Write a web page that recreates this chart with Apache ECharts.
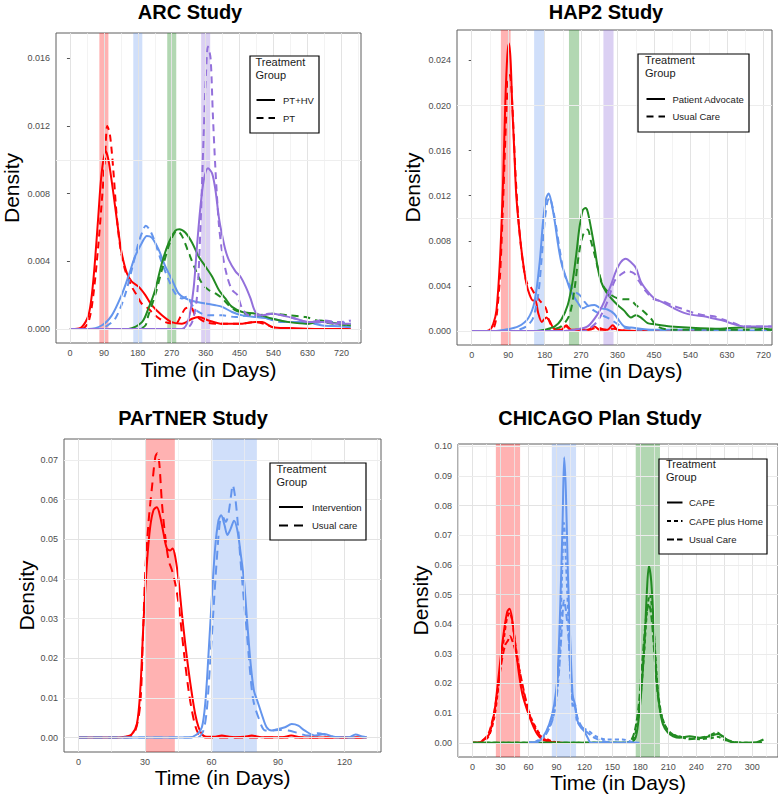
<!DOCTYPE html>
<html><head><meta charset="utf-8">
<script src="https://cdn.jsdelivr.net/npm/echarts@6/dist/echarts.min.js"></script>
<style>html,body{margin:0;padding:0;background:#fff}#c{width:778px;height:797px}</style>
</head><body><div id="c"></div>
<script>
// ---------------- DATA ----------------
// ARC Study
const arcXTicks = [0, 90, 180, 270, 360, 450, 540, 630, 720];
const arcYTicks = [0, 0.004, 0.008, 0.012, 0.016];
const arcBands = [[78, 102], [168, 192], [258, 282], [348, 372]];
const arcGroups = ['PT+HV', 'PT'];
const arcRedSolid = [[0,0],[13,0],[31,0.0001],[49,0.0008],[58,0.002],[66,0.0039],[75,0.0066],[84,0.0092],[95,0.0105],[102,0.0100],[111,0.0087],[120,0.0072],[129,0.0057],[137,0.0045],[151,0.0033],[164,0.0028],[182,0.0025],[200,0.0020],[217,0.0014],[244,0.0008],[270,0.0004],[297,0.0003],[324,0.0006],[341,0.0007],[368,0.0005],[404,0.0003],[448,0.0003],[492,0.0004],[510,0.0004],[537,0.0001],[581,0.00005],[650,0],[745,0]];
const arcRedDash = [[0,0],[31,0],[49,0.0004],[62,0.002],[75,0.0049],[84,0.0074],[93,0.0101],[99,0.012],[106,0.0115],[115,0.0094],[124,0.0067],[133,0.0049],[146,0.0035],[164,0.0025],[177,0.002],[190,0.0015],[208,0.0012],[226,0.0008],[253,0.0004],[280,0.0003],[295,0.0008],[306,0.0012],[320,0.0013],[333,0.0008],[360,0.0004],[400,0.0003],[448,0.0003],[490,0.0004],[515,0.0003],[540,0.0001],[600,0],[745,0]];
const arcBlueSolid = [[0,0],[49,0],[84,0.0002],[111,0.0008],[137,0.002],[155,0.0031],[173,0.0043],[191,0.0051],[204,0.0055],[217,0.0054],[235,0.0047],[253,0.0037],[271,0.0029],[288,0.0021],[306,0.0018],[333,0.0016],[359,0.0015],[386,0.0014],[404,0.0013],[430,0.001],[457,0.0008],[492,0.0007],[537,0.0006],[581,0.0004],[625,0.0004],[670,0.0002],[714,0.00016],[745,0.0001]];
const arcBlueDash = [[0,0],[80,0],[93,0.0001],[120,0.0006],[146,0.002],[164,0.0035],[182,0.0051],[195,0.0059],[201,0.0061],[213,0.0058],[226,0.0051],[244,0.0039],[262,0.0029],[279,0.0021],[297,0.0018],[310,0.0019],[324,0.0014],[341,0.001],[368,0.0008],[404,0.0008],[439,0.0007],[475,0.0008],[510,0.0007],[563,0.0004],[599,0.0004],[634,0.0003],[670,0.0004],[714,0.0004],[745,0.0003]];
const arcGreenSolid = [[0,0],[155,0],[191,0.0004],[208,0.0012],[226,0.0023],[244,0.0039],[262,0.0051],[279,0.0058],[290,0.0059],[306,0.0057],[324,0.0051],[341,0.0043],[359,0.0037],[377,0.0031],[395,0.0023],[412,0.0018],[430,0.0013],[457,0.0010],[492,0.0009],[537,0.0006],[581,0.0004],[634,0.0003],[665,0.0005],[687,0.0004],[714,0.0003],[745,0.0002]];
const arcGreenDash = [[0,0],[182,0],[200,0.0002],[208,0.0008],[226,0.002],[244,0.0035],[262,0.0049],[275,0.0056],[284,0.0058],[297,0.0055],[315,0.0045],[333,0.0035],[350,0.0027],[368,0.0023],[386,0.0021],[404,0.0018],[421,0.0014],[439,0.0011],[466,0.0009],[492,0.0008],[537,0.0009],[581,0.0008],[625,0.0007],[670,0.0004],[745,0.0002]];
const arcPurpleSolid = [[0,0],[297,0],[315,0.0006],[328,0.0024],[337,0.0049],[346,0.0072],[355,0.0088],[366,0.0095],[377,0.0092],[386,0.0082],[395,0.0066],[404,0.0055],[412,0.0047],[421,0.0041],[439,0.0034],[452,0.0031],[466,0.0025],[479,0.0018],[492,0.001],[510,0.0008],[537,0.0009],[563,0.0008],[599,0.0006],[634,0.0004],[670,0.0004],[714,0.0003],[745,0.0003]];
const arcPurpleDash = [[0,0],[306,0],[324,0.0004],[337,0.0019],[346,0.0059],[355,0.0117],[361,0.0152],[366,0.0167],[373,0.016],[379,0.0127],[386,0.0094],[395,0.0062],[404,0.0045],[417,0.0031],[430,0.0023],[444,0.002],[457,0.0012],[475,0.0008],[492,0.0008],[528,0.0009],[563,0.0008],[599,0.0006],[634,0.0004],[670,0.0005],[714,0.0004],[745,0.0005]];

// HAP2 Study
const hapXTicks = [0, 90, 180, 270, 360, 450, 540, 630, 720];
const hapYTicks = [0, 0.004, 0.008, 0.012, 0.016, 0.020, 0.024];
const hapBands = [[72, 96], [154, 180], [240, 265], [325, 350]];
const hapGroups = ['Patient Advocate', 'Usual Care'];
const hapRedSolid = [[0,0],[37,0],[45,0.0001],[53,0.0006],[61,0.0018],[70,0.0065],[78,0.0139],[83,0.0204],[88,0.0245],[92,0.0255],[96,0.024],[100,0.02],[105,0.016],[110,0.012],[119,0.0084],[127,0.006],[135,0.0042],[143,0.0032],[151,0.0027],[157,0.0027],[164,0.0016],[173,0.0008],[184,0.0012],[192,0.0009],[203,0.0002],[221,0.0001],[233,0.0005],[245,0.0001],[286,0.0001],[303,0.0004],[315,0.0001],[335,0.0001],[348,0.0005],[360,0.0001],[409,0],[741,0]];
const hapRedDash = [[0,0],[45,0],[55,0.0003],[62,0.0015],[70,0.005],[78,0.012],[85,0.019],[90,0.0222],[94,0.0227],[98,0.0215],[103,0.018],[108,0.014],[115,0.01],[123,0.007],[131,0.005],[139,0.004],[145,0.0039],[155,0.0033],[170,0.0026],[183,0.002],[190,0.001],[200,0.0003],[215,0.0001],[233,0.0004],[245,0.0001],[290,0.0001],[310,0.0003],[330,0.0001],[350,0.0002],[380,0],[741,0]];
const hapBlueSolid = [[0,0],[60,0],[82,0.0001],[115,0.0004],[139,0.0011],[155,0.0026],[168,0.0062],[176,0.0097],[184,0.0118],[190,0.0122],[196,0.0115],[205,0.0097],[213,0.0077],[221,0.0061],[233,0.0047],[245,0.0035],[262,0.0025],[274,0.002],[286,0.0022],[303,0.0023],[319,0.002],[335,0.0019],[352,0.0015],[364,0.0009],[376,0.0004],[393,0.0003],[450,0.0001],[548,0.0001],[741,0]];
const hapBlueDash = [[0,0],[100,0],[115,0.0001],[135,0.0004],[151,0.0011],[164,0.0032],[172,0.0062],[180,0.0097],[187,0.0115],[192,0.0118],[200,0.0109],[209,0.0091],[219,0.0068],[229,0.005],[241,0.0041],[254,0.0035],[266,0.0032],[278,0.0026],[294,0.002],[311,0.0016],[327,0.0013],[344,0.001],[360,0.0006],[376,0.0003],[417,0.0001],[741,0]];
const hapGreenSolid = [[0,0],[160,0],[180,0.0001],[205,0.0004],[221,0.001],[237,0.0023],[249,0.0044],[258,0.0068],[266,0.0092],[274,0.0107],[281,0.0109],[286,0.0106],[294,0.0092],[303,0.0074],[311,0.0056],[319,0.0044],[331,0.0035],[344,0.0029],[360,0.0023],[376,0.0018],[393,0.0012],[405,0.0014],[417,0.0012],[434,0.0007],[450,0.0006],[491,0.0004],[532,0.0003],[614,0.0002],[663,0.0003],[695,0.0003],[741,0.0001]];
const hapGreenDash = [[0,0],[180,0],[196,0.0001],[221,0.0004],[241,0.0014],[254,0.0038],[262,0.0062],[270,0.0079],[278,0.0088],[286,0.009],[294,0.008],[303,0.0068],[311,0.0056],[323,0.0041],[335,0.0035],[348,0.0031],[360,0.0029],[376,0.0028],[389,0.0028],[405,0.0023],[425,0.0017],[442,0.0011],[458,0.0004],[491,0.0001],[741,0.0001]];
const hapPurpleSolid = [[0,0],[230,0],[254,0.0001],[286,0.0004],[311,0.0015],[327,0.0026],[344,0.0041],[356,0.0053],[368,0.0061],[380,0.0064],[393,0.0061],[405,0.0056],[417,0.0044],[434,0.0035],[450,0.0029],[474,0.0025],[499,0.002],[524,0.0016],[548,0.0014],[573,0.0013],[597,0.0011],[622,0.0009],[646,0.0006],[671,0.0004],[695,0.0004],[741,0.0004]];
const hapPurpleDash = [[0,0],[270,0],[286,0.0001],[311,0.0009],[335,0.0026],[352,0.0044],[368,0.005],[384,0.0053],[401,0.0051],[413,0.0044],[430,0.0035],[450,0.0028],[474,0.0026],[499,0.0022],[524,0.0019],[548,0.0016],[573,0.0014],[597,0.0013],[622,0.001],[646,0.0007],[671,0.0004],[741,0.0004]];

// PArTNER Study
const ptXTicks = [0, 30, 60, 90, 120];
const ptYTicks = [0, 0.01, 0.02, 0.03, 0.04, 0.05, 0.06, 0.07];
const ptBands = [[30.5, 43.5], [60.5, 80.5]];
const ptGroups = ['Intervention', 'Usual care'];
const ptRedSolid = [[0,0],[18,0],[21,0.0002],[24,0.0008],[26.4,0.0035],[27.9,0.0119],[29.4,0.0295],[30.9,0.0439],[32.4,0.0532],[33.9,0.0574],[35.4,0.0581],[36.9,0.0557],[38.4,0.0515],[39.9,0.0477],[41.4,0.0472],[42.5,0.0477],[43.7,0.0455],[45.2,0.0396],[46.7,0.0312],[48.2,0.0236],[49.7,0.0169],[51.2,0.011],[52.7,0.0059],[54.2,0.0026],[55.7,0.0009],[57.2,0.0003],[61,0.0002],[64.7,0.0005],[68,0.0002],[70.7,0.0001],[75,0.0002],[78.2,0.0005],[82.7,0.0001],[92,0.0001],[96,0.0005],[100,0.0001],[105,0],[130,0]];
const ptRedDash = [[0,0],[20,0],[22.7,0.0001],[25.7,0.0018],[27.9,0.0085],[29.1,0.0253],[30.2,0.0422],[31.7,0.0548],[33.2,0.0632],[34.7,0.0708],[35.6,0.0717],[36.5,0.0691],[37.7,0.059],[39.2,0.0506],[40.7,0.0447],[42.2,0.0422],[43.7,0.0388],[45.2,0.0337],[46.7,0.0261],[48.2,0.0185],[49.7,0.0119],[51.2,0.0068],[52.7,0.003],[54.2,0.0009],[55.7,0.0003],[58,0],[130,0]];
const ptBlueSolid = [[0,0],[49.7,0],[53.4,0.0008],[55.7,0.0026],[57.2,0.0085],[58.7,0.0211],[60.2,0.0354],[61.7,0.048],[63.2,0.0548],[64.4,0.0561],[65.9,0.0536],[67.2,0.0511],[68.7,0.0527],[70.2,0.0547],[71.7,0.0523],[73.2,0.0464],[74.7,0.0396],[76.2,0.0287],[77.7,0.0186],[79.2,0.0118],[80.7,0.0093],[82.7,0.0059],[84.9,0.0026],[87.2,0.0018],[90.2,0.0022],[93.2,0.0026],[96.2,0.0034],[99.2,0.003],[102,0.0018],[107,0.0005],[111,0.0009],[116,0.0001],[122,0.0001],[125,0.0008],[128,0.0003],[130,0.0001]];
const ptBlueDash = [[0,0],[52,0],[54.2,0.0001],[56.4,0.0018],[57.9,0.0068],[59.4,0.0186],[60.9,0.032],[62.4,0.0447],[63.9,0.0548],[65,0.0557],[66.5,0.0544],[67.7,0.0565],[68.9,0.0612],[69.6,0.0637],[70.7,0.0607],[71.9,0.054],[72.9,0.0463],[74.4,0.0362],[75.9,0.027],[77.4,0.0169],[78.9,0.0094],[81.2,0.0051],[84.2,0.0018],[87.2,0.0018],[90.2,0.0019],[94.7,0.0018],[99.2,0.0011],[103.7,0.0005],[108,0.0011],[112.7,0.0005],[117,0.0001],[130,0]];

// CHICAGO Plan Study
const chXTicks = [0, 30, 60, 90, 120, 150, 180, 210, 240, 270, 300];
const chYTicks = [0, 0.01, 0.02, 0.03, 0.04, 0.05, 0.06, 0.07, 0.08, 0.09, 0.10];
const chBands = [[25, 51], [85, 111], [175, 201]];
const chGroups = ['CAPE', 'CAPE plus Home', 'Usual Care'];
const chRedSolid = [[0,0],[5,0],[10.4,0.0006],[17.6,0.0028],[23,0.0096],[26.6,0.0185],[30.1,0.0286],[33.7,0.0377],[37.3,0.0443],[39.8,0.0452],[42.7,0.041],[46.3,0.032],[49.9,0.023],[53.5,0.0163],[58.9,0.0107],[64.2,0.0062],[69.6,0.0028],[75,0.0011],[85.8,0.0002],[96.5,0]];
const chRedDot = [[0,0],[5,0],[10,0.0004],[17,0.002],[23,0.008],[27,0.017],[30,0.026],[34,0.036],[37,0.042],[40,0.044],[43,0.04],[46,0.033],[50,0.025],[54,0.018],[59,0.012],[64,0.0075],[70,0.004],[75,0.002],[80,0.0012],[86,0.0004],[95,0]];
const chRedDash = [[0,0],[5,0],[10,0.0006],[17,0.003],[23,0.01],[27,0.018],[31,0.027],[35,0.033],[38,0.0345],[40,0.036],[42,0.035],[46,0.031],[50,0.025],[54,0.019],[59,0.012],[64,0.007],[70,0.0035],[75,0.0015],[85,0.0003],[95,0]];
const chBlueSolid = [[60,0],[67.8,0],[75,0.0017],[82.2,0.0062],[87.6,0.0129],[91.2,0.023],[94,0.0455],[96.5,0.0736],[98.3,0.0963],[100.1,0.0848],[102.3,0.0567],[104.8,0.0343],[107.3,0.0163],[109.8,0.0129],[112.7,0.0073],[116.3,0.0051],[119.9,0.0039],[123.5,0.0017],[127,0],[175,0]];
const chBlueDot = [[60,0],[69,0.0006],[78,0.0028],[86,0.0084],[89,0.014],[93,0.0287],[96,0.0567],[98,0.0742],[100,0.0624],[103,0.0399],[105,0.023],[108,0.0118],[110,0.0129],[112,0.0073],[118,0.0051],[125,0.0039],[132,0.0022],[143,0.0011],[161,0.0011],[172,0.0002],[180,0]];
const chBlueDash = [[60,0],[70,0.0005],[78,0.0025],[86,0.008],[90,0.015],[93,0.025],[96,0.04],[98,0.048],[100,0.045],[103,0.035],[105,0.023],[108,0.013],[110,0.012],[113,0.008],[118,0.005],[125,0.003],[132,0.0015],[140,0.0006],[150,0],[175,0]];
const chGreenSolid = [[0,0],[168,0],[174,0.0011],[177,0.0051],[181,0.0174],[184.5,0.0343],[187,0.0512],[189.1,0.0596],[191.6,0.0546],[194.2,0.0399],[197,0.023],[200.6,0.0118],[204.2,0.0062],[209.5,0.0034],[215,0.0022],[222,0.0017],[232.9,0.0022],[243.7,0.0017],[254.5,0.0022],[263.4,0.003],[268.8,0.0022],[274.2,0.0006],[290,0],[304.7,0.0002],[312,0.0011]];
const chGreenDot = [[0,0],[168,0],[172,0.001],[176,0.005],[180,0.015],[184,0.03],[187,0.044],[190,0.05],[193,0.044],[196,0.03],[199,0.017],[203,0.009],[208,0.005],[214,0.003],[222,0.002],[232,0.0015],[243,0.0012],[254,0.0015],[263,0.002],[270,0.001],[280,0.0002],[290,0],[312,0]];
const chGreenDash = [[0,0],[165,0],[170,0.0008],[174,0.004],[178,0.012],[182,0.027],[186,0.042],[189,0.047],[192,0.042],[195,0.03],[198,0.018],[202,0.01],[207,0.0055],[213,0.003],[222,0.0022],[232,0.0012],[243,0.0015],[254,0.0025],[262,0.0035],[268,0.002],[275,0.0008],[285,0],[312,0]];

// ---------------- STYLE / LAYOUT ----------------
const FONT = 'Liberation Sans, Arial, Helvetica, sans-serif';
const COL = { red: '#FF0000', blue: '#6495ED', green: '#228B22', purple: '#9370DB' };
const BAND = { red: 'rgba(255,0,0,0.30)', blue: 'rgba(100,149,237,0.30)', green: 'rgba(34,139,34,0.35)', purple: 'rgba(147,112,219,0.33)' };
const DASH2 = [7, 5];
const DOT3 = [4, 3];
const DASH3 = [7, 3];

const panels = [
  { title: 'ARC Study', tx: 190, ty: 11.5, left: 51, top: 33, width: 310, height: 310,
    xr: [-37, 772], yr: [-0.000835, 0.0175], xt: arcXTicks, yt: arcYTicks, dec: 3,
    xGap: 16, yGap: 34, bands: arcBands, bandCols: ['red','blue','green','purple'],
    lines: [[arcRedSolid,'red',0],[arcRedDash,'red',1],[arcBlueSolid,'blue',0],[arcBlueDash,'blue',1],
            [arcGreenSolid,'green',0],[arcGreenDash,'green',1],[arcPurpleSolid,'purple',0],[arcPurpleDash,'purple',1]],
    dashes: ['solid', DASH2], groups: arcGroups,
    leg: { x: 250, y: 56, w: 69, h: 77, tx: 255.5, ty: 68, lx1: 256.5, lx2: 275, ly: [100, 118], labx: 283 } },
  { title: 'HAP2 Study', tx: 606, ty: 11.5, left: 457, top: 30, width: 315, height: 315,
    xr: [-36.3, 741], yr: [-0.00125, 0.0267], xt: hapXTicks, yt: hapYTicks, dec: 3,
    xGap: 14, yGap: 34, bands: hapBands, bandCols: ['red','blue','green','purple'],
    lines: [[hapRedSolid,'red',0],[hapRedDash,'red',1],[hapBlueSolid,'blue',0],[hapBlueDash,'blue',1],
            [hapGreenSolid,'green',0],[hapGreenDash,'green',1],[hapPurpleSolid,'purple',0],[hapPurpleDash,'purple',1]],
    dashes: ['solid', DASH2], groups: hapGroups,
    leg: { x: 638, y: 54, w: 111, h: 78, tx: 645, ty: 66, lx1: 646.5, lx2: 665, ly: [99, 116.5], labx: 672.5 } },
  { title: 'PArTNER Study', tx: 193, ty: 418, left: 64, top: 439, width: 317, height: 313,
    xr: [-6.5, 136.5], yr: [-0.00363, 0.0753], xt: ptXTicks, yt: ptYTicks, dec: 2,
    xGap: 14, yGap: 27, bands: ptBands, bandCols: ['red','blue'],
    lines: [[ptRedSolid,'red',0],[ptRedDash,'red',1],[ptBlueSolid,'blue',0],[ptBlueDash,'blue',1]],
    dashes: ['solid', [9, 6]], groups: ptGroups,
    leg: { x: 270, y: 463, w: 96, h: 77, tx: 276.5, ty: 475, lx1: 279, lx2: 303, ly: [507, 525.5], labx: 312 } },
  { title: 'CHICAGO Plan Study', tx: 600, ty: 418, left: 458, top: 444, width: 320, height: 313,
    xr: [-15.6, 327.6], yr: [-0.0048, 0.1008], xt: chXTicks, yt: chYTicks, dec: 2,
    xGap: 14, yGap: 25, bands: chBands, bandCols: ['red','blue','green'],
    lines: [[chRedSolid,'red',0],[chRedDot,'red',1],[chRedDash,'red',2],
            [chGreenSolid,'green',0],[chGreenDot,'green',1],[chGreenDash,'green',2],
            [chBlueSolid,'blue',0],[chBlueDot,'blue',1],[chBlueDash,'blue',2]],
    dashes: ['solid', DOT3, DASH3], groups: chGroups,
    leg: { x: 659, y: 459, w: 108, h: 95, tx: 666, ty: 470.5, lx1: 667, lx2: 682.5, ly: [502.5, 521, 539.5], labx: 689 } }
];

function minorOf(ticks, range) {
  const step = ticks[1] - ticks[0];
  const out = [];
  const first = ticks[0] - step / 2;
  if (first > range[0]) out.push(first);
  ticks.forEach(t => { const m = t + step / 2; if (m < range[1]) out.push(+m.toFixed(6)); });
  return out;
}

const grids = [], xAxes = [], yAxes = [], series = [], graphics = [];
panels.forEach((p, i) => {
  grids.push({ left: p.left, top: p.top, width: p.width, height: p.height, show: true,
    borderColor: '#5e5e5e', borderWidth: 1, backgroundColor: 'transparent', containLabel: false });
  xAxes.push({ type: 'value', gridIndex: i, min: p.xr[0], max: p.xr[1],
    name: 'Time (in Days)', nameLocation: 'middle', nameGap: p.xGap,
    nameTextStyle: { fontSize: 21, color: '#000', fontFamily: FONT },
    axisLine: { show: false },
    axisTick: { show: true, customValues: p.xt, length: 3, lineStyle: { color: '#555', width: 1 } },
    axisLabel: { customValues: p.xt, margin: 5, fontSize: 9, color: '#4d4d4d', fontFamily: FONT, formatter: v => String(Math.round(v)) },
    splitLine: { show: false } });
  yAxes.push({ type: 'value', gridIndex: i, min: p.yr[0], max: p.yr[1],
    name: 'Density', nameLocation: 'middle', nameGap: p.yGap,
    nameTextStyle: { fontSize: 21, color: '#000', fontFamily: FONT },
    axisLine: { show: false },
    axisTick: { show: true, customValues: p.yt, length: 3, lineStyle: { color: '#555', width: 1 } },
    axisLabel: { customValues: p.yt, margin: 6, fontSize: 9, color: '#4d4d4d', fontFamily: FONT, formatter: v => v.toFixed(p.dec) },
    splitLine: { show: false } });

  const gl = [];
  p.xt.forEach(v => gl.push({ xAxis: v, lineStyle: { color: '#E3E3E3', width: 1 } }));
  minorOf(p.xt, p.xr).forEach(v => gl.push({ xAxis: v, lineStyle: { color: '#EEEEEE', width: 0.7 } }));
  p.yt.forEach(v => gl.push({ yAxis: v, lineStyle: { color: '#E3E3E3', width: 1 } }));
  minorOf(p.yt, p.yr).forEach(v => gl.push({ yAxis: v, lineStyle: { color: '#EEEEEE', width: 0.7 } }));
  series.push({ type: 'line', name: 'grid' + i, xAxisIndex: i, yAxisIndex: i, data: [], silent: true, z: 1,
    markLine: { silent: true, symbol: ['none', 'none'], label: { show: false }, animation: false,
      lineStyle: { type: 'solid' }, data: gl } });
  series.push({ type: 'line', name: 'bands' + i, xAxisIndex: i, yAxisIndex: i, data: [], silent: true, z: 2,
    markArea: { silent: true, animation: false,
      data: p.bands.map((b, k) => [{ xAxis: b[0], itemStyle: { color: BAND[p.bandCols[k]] } }, { xAxis: b[1] }]) } });
  p.lines.forEach(([arr, col, lt]) => {
    series.push({ type: 'line', name: p.groups[lt], xAxisIndex: i, yAxisIndex: i, data: arr,
      showSymbol: false, symbol: 'none', smooth: 0.3, silent: true, z: 3, clip: true,
      lineStyle: { color: COL[col], width: 2, type: p.dashes[lt] } });
  });

  graphics.push({ type: 'text', x: p.tx, y: p.ty, z: 100,
    style: { text: p.title, font: 'bold 20px ' + FONT, fill: '#000', textAlign: 'center', verticalAlign: 'middle' } });
  const L = p.leg;
  graphics.push({ type: 'rect', z: 100, shape: { x: L.x, y: L.y, width: L.w, height: L.h },
    style: { fill: '#fff', stroke: '#000', lineWidth: 1.2 } });
  graphics.push({ type: 'text', z: 101, x: L.tx, y: L.ty,
    style: { text: 'Treatment\nGroup', font: '11px ' + FONT, fill: '#1a1a1a', textAlign: 'left', verticalAlign: 'middle', lineHeight: 13 } });
  p.groups.forEach((g, k) => {
    const d = p.dashes[k];
    graphics.push({ type: 'line', z: 101, shape: { x1: L.lx1, y1: L.ly[k], x2: L.lx2, y2: L.ly[k] },
      style: { stroke: '#000', lineWidth: 2, lineDash: d === 'solid' ? null : d } });
    graphics.push({ type: 'text', z: 101, x: L.labx, y: L.ly[k],
      style: { text: g, font: '9.5px ' + FONT, fill: '#1a1a1a', textAlign: 'left', verticalAlign: 'middle' } });
  });
});

const chart = echarts.init(document.getElementById('c'), null, { renderer: 'svg', width: 778, height: 797 });
chart.setOption({
  animation: false,
  backgroundColor: '#fff',
  textStyle: { fontFamily: FONT },
  grid: grids, xAxis: xAxes, yAxis: yAxes, series: series, graphic: graphics
});
</script></body></html>
